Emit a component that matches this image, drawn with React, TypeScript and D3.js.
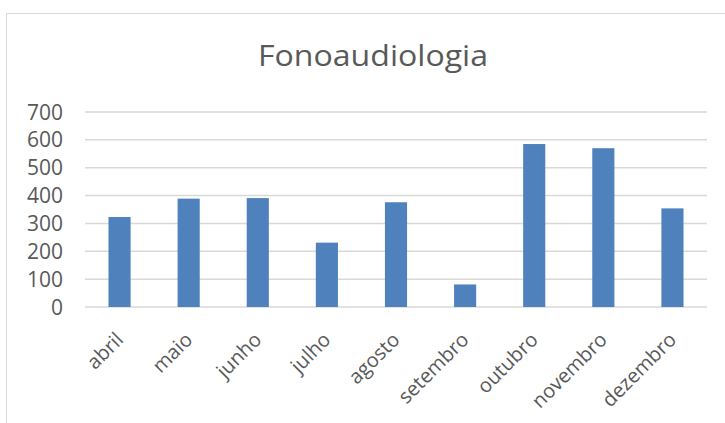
import React, { useEffect, useRef } from "react";
import * as d3 from "d3";

const months = ["abril", "maio", "junho", "julho", "agosto", "setembro", "outubro", "novembro", "dezembro"];
const values = [323, 389, 391, 231, 376, 81, 585, 570, 354];
const yTicks = [0, 100, 200, 300, 400, 500, 600, 700];
const title = "Fonoaudiologia";

const W = 725;
const H = 423;

const App = () => {
  const svgRef = useRef<SVGSVGElement>(null);

  useEffect(() => {
    if (!svgRef.current) return;
    const svg = d3.select(svgRef.current);
    svg.selectAll("*").remove();

    const font = "'Open Sans', sans-serif";
    const textColor = "#595959";

    // chart frame
    svg.append("rect")
      .attr("x", 6.5).attr("y", 13.5)
      .attr("width", W).attr("height", H)
      .attr("fill", "#fff")
      .attr("stroke", "#d9d9d9").attr("stroke-width", 1);

    const margin = { top: 112, right: 18, bottom: 116, left: 85 };
    const plotRight = W - margin.right;
    const plotBottom = H - margin.bottom;

    const x = d3.scaleBand()
      .domain(months)
      .range([margin.left, plotRight])
      .paddingInner(0.68)
      .paddingOuter(0.34);

    const y = d3.scaleLinear().domain([0, 700]).range([plotBottom, margin.top]);

    svg.append("text")
      .attr("x", 373)
      .attr("y", 66)
      .attr("text-anchor", "middle")
      .attr("font-family", font)
      .attr("font-size", 29)
      .attr("textLength", 230)
      .attr("lengthAdjust", "spacingAndGlyphs")
      .attr("fill", textColor)
      .text(title);

    // gridlines
    svg.append("g").selectAll("line")
      .data(yTicks)
      .join("line")
      .attr("x1", margin.left).attr("x2", plotRight)
      .attr("y1", d => y(d)).attr("y2", d => y(d))
      .attr("stroke", "#d9d9d9").attr("stroke-width", 1.5);

    svg.append("g").selectAll("text")
      .data(yTicks)
      .join("text")
      .attr("x", 63)
      .attr("y", d => y(d))
      .attr("dy", "0.36em")
      .attr("text-anchor", "end")
      .attr("font-family", font)
      .attr("font-size", 21)
      .attr("fill", textColor)
      .text(d => d);

    // bars
    svg.append("g").selectAll("rect")
      .data(values)
      .join("rect")
      .attr("x", (d, i) => x(months[i])!)
      .attr("width", x.bandwidth())
      .attr("y", d => y(d))
      .attr("height", d => y(0) - y(d))
      .attr("fill", "#4f81bd");

    // category labels
    svg.append("g").selectAll("text")
      .data(months)
      .join("text")
      .attr("transform", d => `translate(${x(d)! + x.bandwidth() / 2 + 5}, ${plotBottom + 34}) rotate(-45)`)
      .attr("text-anchor", "end")
      .attr("font-family", font)
      .attr("font-size", 20)
      .attr("fill", textColor)
      .text(d => d);
  }, []);

  return (
    <svg
      ref={svgRef}
      width={W}
      height={H}
      style={{ position: "fixed", left: 0, top: 0, display: "block", background: "#fff" }}
    />
  );
};

export default App;
